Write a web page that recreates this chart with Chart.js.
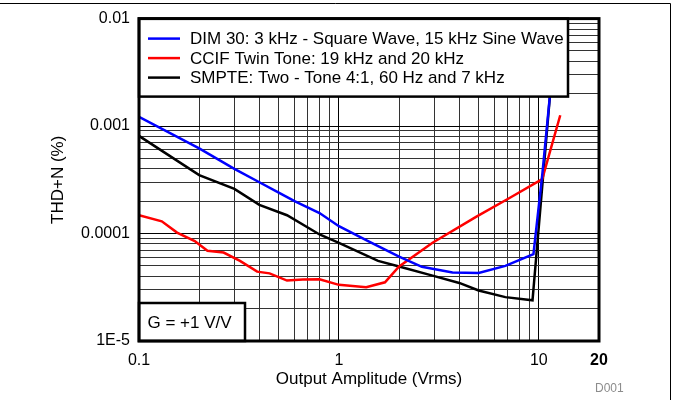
<!DOCTYPE html>
<html>
<head>
<meta charset="utf-8">
<script src="https://cdn.jsdelivr.net/npm/chart.js@4.4.1/dist/chart.umd.min.js"></script>
<style>
    html, body { margin: 0; padding: 0; background: #fff; }
    canvas { display: block; }
</style>
</head>
<body>
<canvas id="thd-chart" width="673" height="400"></canvas>
<script>
// series (x in Vrms, y in THD+N %)
const seriesLabels = [
    'DIM 30: 3 kHz - Square Wave, 15 kHz Sine Wave',
    'CCIF Twin Tone: 19 kHz and 20 kHz',
    'SMPTE: Two - Tone 4:1, 60 Hz and 7 kHz'
];

const dimX = [0.1, 0.2, 0.3, 0.4, 0.5, 0.6, 0.8, 1, 1.4, 2, 2.6, 3.7, 5, 6.8, 9.4, 10.4, 11.4, 12.4];
const dimY = [0.00122, 0.00062, 0.0004, 0.0003, 0.00024, 0.0002, 0.000155, 0.000117, 0.000085, 0.000061,
    0.000049, 0.0000435, 0.000043, 0.00005, 0.0000643, 0.00035, 0.00204, 0.0105];

const ccifX = [0.1, 0.13, 0.155, 0.19, 0.22, 0.265, 0.32, 0.39, 0.45, 0.55, 0.66, 0.8, 1, 1.37, 1.7, 2,
    2.94, 4.9, 7.1, 10.4, 12.8];
const ccifY = [0.000148, 0.00013, 0.000102, 0.000085, 0.000069, 0.0000665, 0.0000557, 0.0000442, 0.0000426,
    0.0000365, 0.0000373, 0.0000375, 0.0000333, 0.0000316, 0.0000352, 0.0000494, 0.000082, 0.0001445,
    0.000213, 0.000321, 0.00126];

const smpteX = [0.1, 0.2, 0.3, 0.4, 0.55, 0.8, 1, 1.57, 2, 2.94, 4, 5, 6.8, 9.3, 11.4, 12.4];
const smpteY = [0.00081, 0.00035, 0.00026, 0.000185, 0.000148, 0.000098, 0.000082, 0.0000557, 0.0000494,
    0.0000406, 0.0000347, 0.0000295, 0.0000256, 0.0000239, 0.00204, 0.0105];

// axes
const xGridValues = [0.1, 0.2, 0.3, 0.4, 0.5, 0.6, 0.7, 0.8, 0.9, 1, 2, 3, 4, 5, 6, 7, 8, 9, 10, 20];
const xTickValues = [0.1, 1, 10, 20];
const xTickLabels = ['0.1', '1', '10', '20'];

const yGridValues = [1e-5, 2e-5, 3e-5, 4e-5, 5e-5, 6e-5, 7e-5, 8e-5, 9e-5,
    1e-4, 2e-4, 3e-4, 4e-4, 5e-4, 6e-4, 7e-4, 8e-4, 9e-4,
    1e-3, 2e-3, 3e-3, 4e-3, 5e-3, 6e-3, 7e-3, 8e-3, 9e-3, 1e-2];
const yTickValues = [1e-5, 1e-4, 1e-3, 1e-2];
const yTickLabels = ['1E-5', '0.0001', '0.001', '0.01'];

const FONT = "'Liberation Sans', Arial, Helvetica, sans-serif";

function toPoints(xs, ys) {
    return xs.map((x, i) => ({ x: x, y: ys[i] }));
}

function labelFor(values, labels) {
    return function (value) {
        const i = values.indexOf(value);
        return i >= 0 ? labels[i] : '';
    };
}

// white legend box, gain note and the heavy frame round the plot
const boxesPlugin = {
    id: 'boxes',
    afterDatasetsDraw(chart) {
        const ctx = chart.ctx;
        const a = chart.chartArea;
        ctx.save();

        // legend
        ctx.fillStyle = '#fff';
        ctx.fillRect(a.left, a.top, 429, 78);
        ctx.strokeStyle = '#000';
        ctx.lineWidth = 2.5;
        ctx.strokeRect(a.left, a.top, 429, 78);
        ctx.font = '17px ' + FONT;
        ctx.textBaseline = 'middle';
        ctx.textAlign = 'left';
        chart.data.datasets.forEach((ds, i) => {
            const y = a.top + 20 + i * 19.5;
            ctx.strokeStyle = ds.borderColor;
            ctx.lineWidth = 2.5;
            ctx.beginPath();
            ctx.moveTo(a.left + 9, y);
            ctx.lineTo(a.left + 41, y);
            ctx.stroke();
            ctx.fillStyle = '#000';
            ctx.fillText(ds.label, a.left + 51, y + 1);
        });

        // gain note
        ctx.fillStyle = '#fff';
        ctx.fillRect(a.left, a.bottom - 38, 106, 38);
        ctx.strokeStyle = '#000';
        ctx.lineWidth = 2.5;
        ctx.strokeRect(a.left, a.bottom - 38, 106, 38);
        ctx.fillStyle = '#000';
        ctx.fillText('G = +1 V/V', a.left + 8.5, a.bottom - 18);

        // plot frame
        ctx.lineWidth = 3;
        ctx.strokeRect(a.left, a.top, a.right - a.left, a.bottom - a.top);
        ctx.restore();
    },
    afterDraw(chart) {
        const ctx = chart.ctx;
        ctx.save();
        ctx.strokeStyle = '#000';
        ctx.lineWidth = 1;
        ctx.beginPath();
        ctx.moveTo(0, 3.5);
        ctx.lineTo(670.5, 3.5);
        ctx.lineTo(670.5, 400);
        ctx.stroke();
        ctx.fillStyle = '#8c8c8c';
        ctx.font = '12px ' + FONT;
        ctx.textBaseline = 'middle';
        ctx.fillText('D001', 595, 389);
        ctx.restore();
    }
};

const gridColor = (c) => (c.tick && c.tick.major ? '#000' : '#333');

new Chart(document.getElementById('thd-chart'), {
    type: 'line',
    data: {
        datasets: [
            { label: seriesLabels[0], data: toPoints(dimX, dimY), borderColor: '#0000ff' },
            { label: seriesLabels[1], data: toPoints(ccifX, ccifY), borderColor: '#ff0000' },
            { label: seriesLabels[2], data: toPoints(smpteX, smpteY), borderColor: '#000000' }
        ]
    },
    options: {
        responsive: false,
        animation: false,
        devicePixelRatio: 1,
        datasets: {
            line: { borderWidth: 2.5, pointRadius: 0, tension: 0, fill: false }
        },
        layout: { padding: { left: 0, right: 74, top: 15, bottom: 0 } },
        plugins: {
            legend: { display: false },
            tooltip: { enabled: false }
        },
        scales: {
            x: {
                type: 'logarithmic',
                min: 0.1,
                max: 20,
                afterBuildTicks: (scale) => {
                    scale.ticks = xGridValues.map(v => ({ value: v, major: xTickValues.includes(v) }));
                },
                afterFit: (scale) => { scale.height = 59; },
                border: { display: false },
                grid: { color: gridColor, lineWidth: 1, drawTicks: false },
                ticks: {
                    autoSkip: false,
                    maxRotation: 0,
                    padding: 10,
                    color: '#000',
                    font: (c) => ({
                        family: FONT,
                        size: 16,
                        weight: c.tick && c.tick.value === 20 ? 'bold' : 'normal'
                    }),
                    callback: labelFor(xTickValues, xTickLabels)
                },
                title: {
                    display: true,
                    text: 'Output Amplitude (Vrms)',
                    color: '#000',
                    font: { family: FONT, size: 17 },
                    padding: { top: 0, bottom: 10 }
                }
            },
            y: {
                type: 'logarithmic',
                min: 1e-5,
                max: 0.01,
                afterBuildTicks: (scale) => {
                    scale.ticks = yGridValues.map(v => ({ value: v, major: yTickValues.includes(v) }));
                },
                afterFit: (scale) => { scale.width = 139; },
                border: { display: false },
                grid: { color: gridColor, lineWidth: 1, drawTicks: false },
                ticks: {
                    autoSkip: false,
                    padding: 9,
                    color: '#000',
                    font: { family: FONT, size: 16 },
                    callback: labelFor(yTickValues, yTickLabels)
                },
                title: {
                    display: true,
                    text: 'THD+N (%)',
                    color: '#000',
                    font: { family: FONT, size: 17 },
                    padding: { top: 48, bottom: 0 }
                }
            }
        }
    },
    plugins: [boxesPlugin]
});
</script>
</body>
</html>
